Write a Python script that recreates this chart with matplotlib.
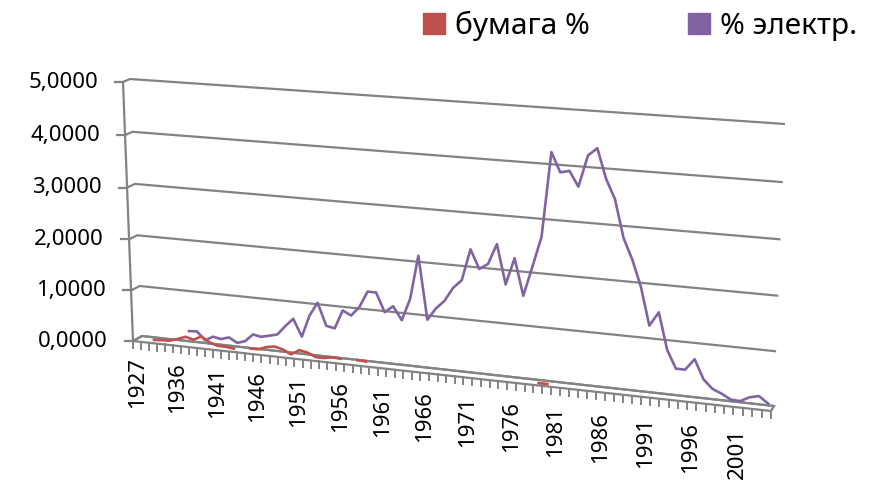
import numpy as np
import matplotlib
matplotlib.use("Agg")
import matplotlib.pyplot as plt
from matplotlib.transforms import Transform, ScaledTranslation
from matplotlib.patches import Patch, Polygon

nan = np.nan

# categories: 1927, then 1932..2004
years = [1927] + list(range(1932, 2005))

# бумага % (front series), gaps where no data
paper = [nan, nan, 0.05, 0.06, 0.07, 0.12, 0.18, 0.14, 0.22, 0.12,
         0.07, 0.07, 0.05, nan, 0.09, 0.09, 0.15, 0.18, 0.14, 0.06,
         0.16, 0.13, 0.06, 0.06, 0.09, 0.08, nan, 0.09, 0.08] + [nan] * 19 + \
        [0.03, 0.03] + [nan] * 24

# % электр. (back series), 1937..2004
elec = [nan] * 6 + [
    0.25, 0.26, 0.10, 0.19, 0.16, 0.21, 0.12, 0.17, 0.32, 0.29,
    0.33, 0.37, 0.55, 0.71, 0.38, 0.81, 1.07, 0.64, 0.61, 0.97,
    0.89, 1.07, 1.38, 1.38, 1.02, 1.15, 0.90, 1.32, 2.15, 0.96,
    1.19, 1.35, 1.61, 1.77, 2.36, 2.01, 2.12, 2.50, 1.77, 2.27,
    1.59, 2.14, 2.71, 4.25, 3.90, 3.94, 3.67, 4.24, 4.38, 3.85,
    3.50, 2.82, 2.44, 1.96, 1.27, 1.53, 0.86, 0.53, 0.53, 0.74,
    0.39, 0.23, 0.16, 0.07, 0.06, 0.15, 0.19, 0.07]

series_names = ["бумага %", "% электр."]
series_colors = ["#C0504D", "#8064A2"]
y_ticks = [0, 1, 2, 3, 4, 5]
y_labels = [f"{v:.4f}".replace(".", ",") for v in y_ticks]

N = len(years)
VMAX = y_ticks[-1]

# 3d-ish plane corners in pixels (front = depth 0, back wall = depth 1)
FRONT = [(133, 341), (771, 411), (782, 129), (123, 82)]
BACK = [(142, 336), (774, 406), (785, 124), (130, 79)]


def homography(src, dst):
    A = []
    for (x, y), (u, v) in zip(src, dst):
        A.append([x, y, 1, 0, 0, 0, -u * x, -u * y, -u])
        A.append([0, 0, 0, x, y, 1, -v * x, -v * y, -v])
    _, _, vt = np.linalg.svd(np.array(A, float))
    return vt[-1].reshape(3, 3)


class Persp(Transform):
    """Maps (category, value) onto a slanted plane at a given depth."""
    input_dims = output_dims = 2

    def __init__(self, depth):
        super().__init__()
        corners = [(1 - depth) * np.array(f) + depth * np.array(b)
                   for f, b in zip(FRONT, BACK)]
        src = [(0, 0), (N, 0), (N, VMAX), (0, VMAX)]
        self.H = homography(src, corners)

    def transform_non_affine(self, pts):
        pts = np.asarray(pts, float).reshape(-1, 2)
        q = np.c_[pts, np.ones(len(pts))] @ self.H.T
        return q[:, :2] / q[:, 2:3]


fig = plt.figure(figsize=(8.84, 4.82), dpi=100)
ax = fig.add_axes([0, 0, 1, 1])
ax.set_xlim(0, 884)
ax.set_ylim(482, 0)
ax.axis("off")

front, back = Persp(0.0), Persp(1.0)
grid_c = "#838383"
font = "Noto Sans"

# floor
floor = np.r_[front.transform([(0, 0), (N, 0)]), back.transform([(N, 0), (0, 0)])]
ax.add_patch(Polygon(floor, closed=True, fc="white", ec=grid_c, lw=1.6, zorder=1))

# gridlines: side wall piece + back wall line
for v in y_ticks:
    pts = np.r_[front.transform([(0, v)]), back.transform([(0, v), (N, v)])]
    ax.plot(pts[:, 0], pts[:, 1], color=grid_c, lw=1.6, zorder=1,
            solid_capstyle="butt")

# value axis on the front-left edge
ax.plot([0, 0], [0, VMAX], color=grid_c, lw=1.6, transform=front + ax.transData,
        zorder=2)
for v, lab in zip(y_ticks, y_labels):
    x0, y0 = front.transform([(0, v)])[0]
    ax.plot([x0 - 8, x0], [y0, y0], color=grid_c, lw=1.6, zorder=2)
    ax.text(0, v, lab, ha="right", va="center", fontsize=16, family=font,
            transform=front + ax.transData
            + ScaledTranslation(-0.25, 0, fig.dpi_scale_trans))

# category ticks and labels
for u in range(N + 1):
    x0, y0 = front.transform([(u, 0)])[0]
    ax.plot([x0, x0], [y0, y0 + 7], color=grid_c, lw=1.4, zorder=2)
for i in range(0, N, 5):
    ax.text(i + 0.5, -0.32 - 0.06 * i / N, str(years[i]), rotation=90,
            ha="center", va="top", fontsize=16, family=font,
            transform=front + ax.transData)

# series
idx = np.arange(N) + 0.5
ax.plot(idx, elec, color=series_colors[1], lw=1.9, zorder=3,
        transform=Persp(0.6) + ax.transData)
ax.plot(idx, paper, color=series_colors[0], lw=1.9, zorder=4,
        transform=Persp(0.15) + ax.transData)

handles = [Patch(color=c, label=n) for c, n in zip(series_colors, series_names)]
fig.legend(handles=handles, ncol=2, loc="center left",
           bbox_to_anchor=(423 / 884, 1 - 26 / 482), frameon=False,
           borderpad=0, borderaxespad=0, handlelength=0.72, handleheight=0.68,
           handletextpad=0.35, columnspacing=3.3,
           prop={"family": font, "size": 21.5})

fig.savefig("out.png", dpi=100)
